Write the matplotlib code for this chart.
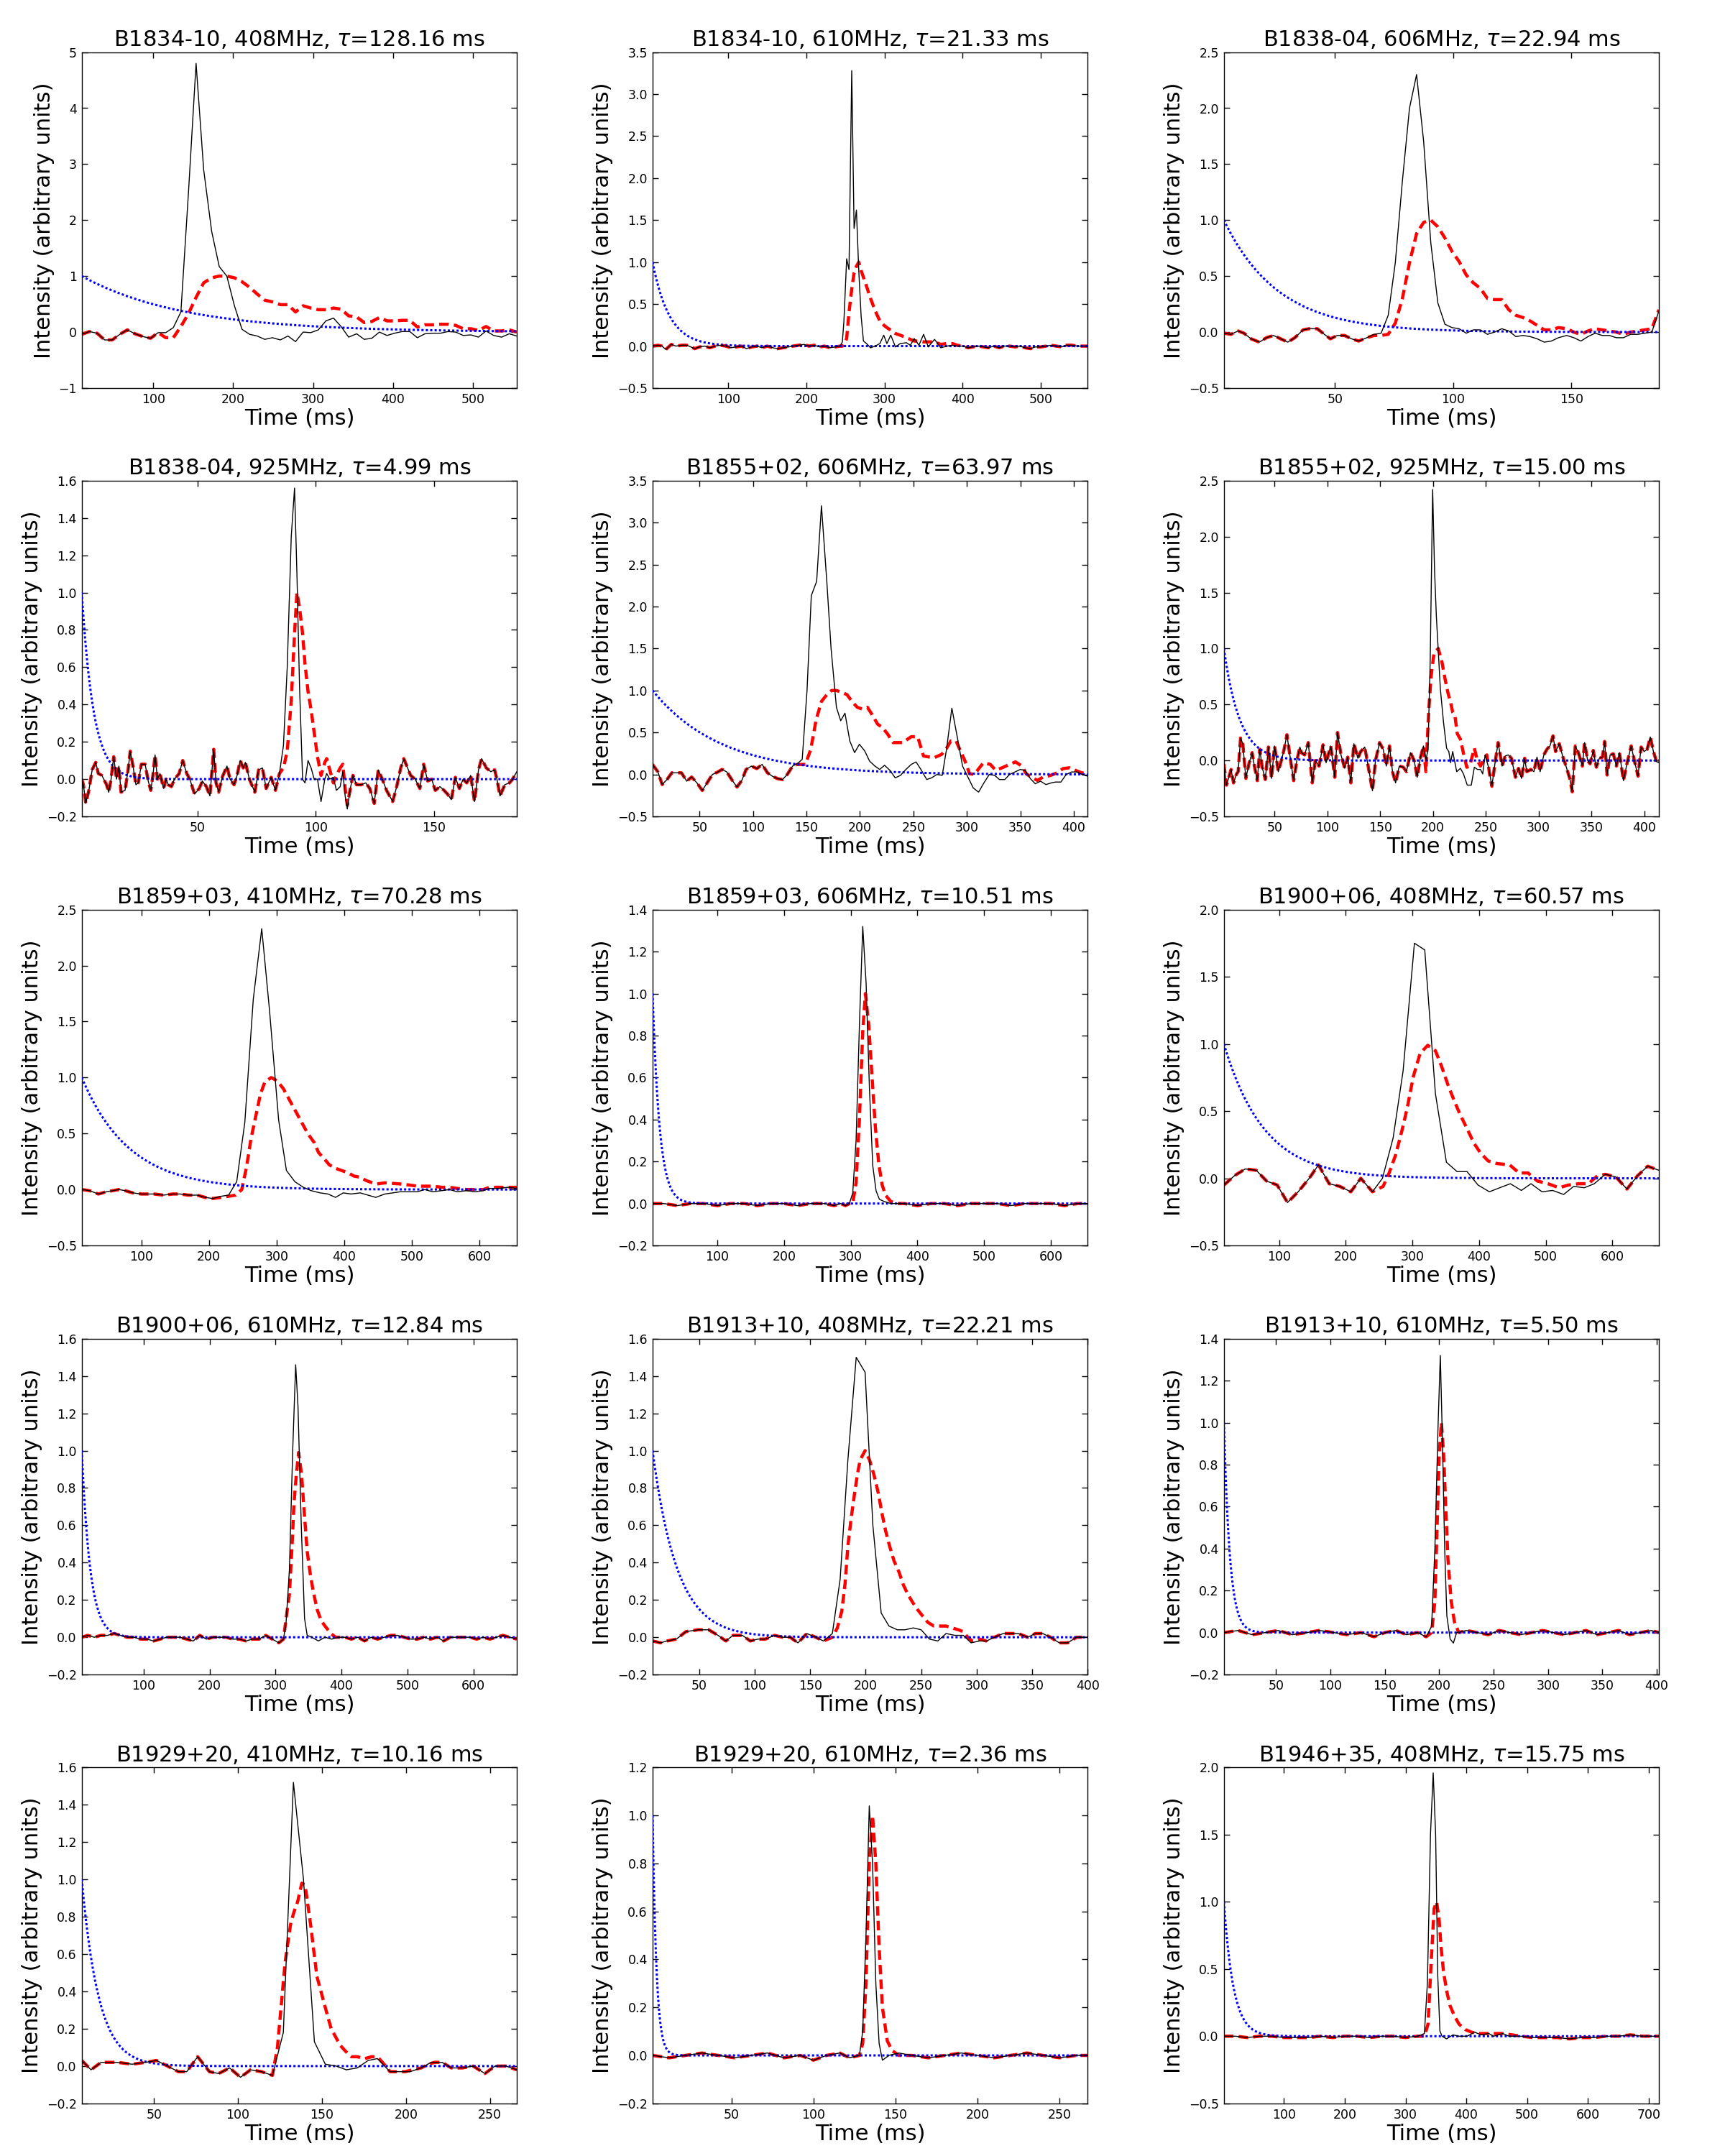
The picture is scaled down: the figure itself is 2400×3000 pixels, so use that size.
# Scattering fits for 15 pulsar profiles: observed profile (black),
# scattered profile (red dashed) and exp(-t/tau) kernel (blue dotted)

import matplotlib
matplotlib.use("Agg")
import matplotlib.pyplot as plt
import numpy as np
from matplotlib.ticker import MultipleLocator

names = ["B1834-10", "B1834-10", "B1838-04", "B1838-04", "B1855+02",
         "B1855+02", "B1859+03", "B1859+03", "B1900+06", "B1900+06",
         "B1913+10", "B1913+10", "B1929+20", "B1929+20", "B1946+35"]
freqs = ["408MHz", "610MHz", "606MHz", "925MHz", "606MHz",
         "925MHz", "410MHz", "606MHz", "408MHz", "610MHz",
         "408MHz", "610MHz", "410MHz", "610MHz", "408MHz"]
taus = ["128.16", "21.33", "22.94", "4.99", "63.97",
        "15.00", "70.28", "10.51", "60.57", "12.84",
        "22.21", "5.50", "10.16", "2.36", "15.75"]
ylims = [(-1, 5), (-0.5, 3.5), (-0.5, 2.5), (-0.2, 1.6), (-0.5, 3.5),
         (-0.5, 2.5), (-0.5, 2.5), (-0.2, 1.4), (-0.5, 2.0), (-0.2, 1.6),
         (-0.2, 1.6), (-0.2, 1.4), (-0.2, 1.6), (-0.2, 1.2), (-0.5, 2.0)]
xsteps = [100, 100, 50, 50, 50, 50, 100, 100, 100, 100, 50, 50, 50, 50, 100]
ysteps = [1, 0.5, 0.5, 0.2, 0.5, 0.5, 0.5, 0.2, 0.5, 0.2, 0.2, 0.2, 0.2, 0.2, 0.5]

# (time in ms, intensity) pairs
black_1 = [(10.4,-0.04),(20,0.01),(29.5,-0.02),(39,-0.14),(48.5,-0.14),(58,-0.04),(67.5,0.04),(77,-0.03),
           (87,-0.08),(96.5,-0.11),(106,-0.01),(115.5,-0.01),(125,0.08),(134.5,0.36),(144,2.5),(153.5,4.8),
           (163,2.9),(173,1.8),(182.5,1.17),(192,1.0),(201.5,0.47),(211,0.05),(220.5,-0.04),(230,-0.07),
           (239.5,-0.13),(249,-0.1),(259,-0.14),(268.5,-0.07),(278,-0.17),(287.5,0.0),(297,-0.01),(306.5,0.04),
           (316,0.2),(325.5,0.25),(335,0.1),(344.5,-0.09),(354.5,-0.03),(364,-0.13),(373.5,-0.11),(383,0.0),
           (392.5,-0.06),(402,-0.02),(411.5,0.01),(421,0.01),(430.5,-0.1),(440,-0.03),(450,-0.02),(459.5,-0.02),
           (469,0.01),(478.5,0.0),(488,-0.06),(497.5,-0.05),(507,-0.09),(516.5,0.02),(526,-0.06),(536,-0.09),
           (545.5,-0.03),(555,-0.07)]
red_1 = [(115.5,-0.1),(125,-0.1),(134.5,0.1),(144,0.33),(153.5,0.62),(163,0.88),(173,0.97),(182.5,1.0),
         (192,1.0),(201.5,0.97),(211,0.9),(220.5,0.8),(230,0.68),(239.5,0.57),(249,0.54),(259,0.49),
         (268.5,0.49),(278,0.36),(287.5,0.47),(297,0.43),(306.5,0.4),(316,0.4),(325.5,0.43),(335,0.41),
         (344.5,0.29),(354.5,0.27),(364,0.17),(373.5,0.19),(383,0.26),(392.5,0.2),(402,0.2),(411.5,0.21),
         (421,0.21),(430.5,0.09),(440,0.13),(450,0.13),(459.5,0.14),(469,0.14),(478.5,0.12),(488,0.06),
         (497.5,0.06),(507,0.03),(516.5,0.1),(526,0.02),(536,0.02),(545.5,0.04),(555,0.0)]

black_2 = [(3,0.0),(10,0.01),(15,0.0),(20,-0.04),(27,0.02),(33,0.0),(40,0.01),(47,0.01),(52,-0.01),(57,-0.03),
           (63,-0.01),(70,0.0),(76,-0.02),(83,0.0),(90,0.01),(97,0.0),(103,-0.02),(110,-0.01),(117,0.0),
           (123,-0.03),(130,-0.01),(137,0.0),(143,-0.02),(150,0.0),(157,-0.02),(163,-0.03),(170,-0.02),
           (177,-0.01),(183,0.0),(190,0.01),(197,0.02),(203,0.0),(210,0.01),(217,-0.01),(223,0.0),(230,-0.02),
           (237,-0.01),(243,0.0),(246,0.05),(248,0.3),(251.5,1.04),(254.5,0.91),(258,3.28),(261,1.4),(264,1.62),
           (267,0.9),(270,0.36),(273,0.06),(277,0.03),(282,-0.02),(288,0.0),(294,0.03),(299,0.13),(303,0.03),
           (308,0.13),(314,-0.01),(320,0.03),(328,0.04),(333,0.01),(338,0.09),(344,0.01),(350,0.14),(356,-0.01),
           (364,0.08),(372,-0.02),(380,0.0),(387,0.01),(393,0.0),(400,0.0),(407,-0.02),(413,-0.01),(420,0.0),
           (427,-0.01),(433,-0.02),(440,0.0),(447,-0.02),(453,0.0),(460,0.0),(467,-0.01),(473,0.0),(480,-0.02),
           (487,-0.03),(493,-0.01),(500,-0.01),(507,0.0),(513,0.01),(520,0.0),(527,-0.01),(533,0.01),(540,0.01),
           (547,0.0),(553,0.0),(560,0.0)]
red_2 = [(246,0.0),(248,0.02),(251.5,0.09),(254.5,0.4),(258,0.68),(261,0.87),(264,0.95),(267,1.0),(270,0.9),
         (273,0.82),(277,0.71),(282,0.57),(288,0.42),(294,0.3),(299,0.25),(303,0.22),(308,0.19),(314,0.15),
         (320,0.13),(328,0.1),(333,0.08),(338,0.06),(344,0.06),(350,0.05),(356,0.05),(364,0.05),(372,0.02),
         (380,0.03),(387,0.03),(393,0.01),(400,0.0)]

black_3 = [(3,-0.01),(6,-0.02),(9,0.01),(11.5,-0.01),(14.5,-0.06),(18,-0.09),(21,-0.05),(24,-0.03),(27,-0.06),
           (30,-0.09),(33,-0.05),(36.5,0.02),(39,0.03),(42.5,0.03),(45.5,-0.02),(48,-0.06),(51,-0.03),(54,-0.03),
           (57,-0.06),(60,-0.08),(63.5,-0.05),(66.5,-0.02),(69.5,-0.01),(72.5,0.15),(75.5,0.62),(78.5,1.35),
           (81.5,2.0),(84.5,2.3),(87.5,1.7),(90.5,0.8),(93.5,0.26),(96.5,0.07),(99.5,0.04),(102.5,0.03),
           (105.5,-0.01),(108.5,0.02),(111.5,0.02),(114.5,-0.02),(117.5,0.0),(120.5,0.03),(123.5,0.01),
           (126.5,-0.04),(129.5,-0.03),(132.5,-0.04),(135.5,-0.06),(138.5,-0.09),(141.5,-0.08),(144.5,-0.05),
           (148,-0.03),(151,-0.05),(154,-0.08),(157,-0.04),(160,-0.01),(163,-0.03),(166,-0.03),(169,-0.05),
           (172,-0.05),(175,-0.02),(178,-0.02),(181,-0.01),(184,0.0),(187,0.19)]
red_3 = [(66.5,-0.03),(69.5,-0.03),(72.5,-0.02),(75.5,0.08),(78.5,0.3),(81.5,0.62),(84.5,0.88),(87.5,0.98),
         (90.5,1.0),(93.5,0.94),(96.5,0.84),(99.5,0.72),(102.5,0.63),(105.5,0.51),(108.5,0.44),(111.5,0.39),
         (114.5,0.3),(117.5,0.29),(120.5,0.29),(123.5,0.2),(126.5,0.15),(129.5,0.13),(132.5,0.1),(135.5,0.06),
         (138.5,0.02),(141.5,0.02),(144.5,0.04),(148,0.03),(151,0.0),(154,-0.02),(157,0.01),(160,0.03),
         (163,0.02),(166,0.01),(169,0.0),(172,-0.02),(175,0.0),(178,0.01),(181,0.02),(184,0.03),(187,0.2)]

black_4 = [(1,0.0),(1.7,-0.03),(2.7,-0.13),(4,-0.06),(5.4,0.05),(6.9,0.09),(8,0.03),(9.5,0.02),(11.5,-0.03),
           (12.4,-0.07),(13.4,0.0),(14.5,0.12),(15.7,0.0),(16.7,0.07),(17.6,-0.07),(19.3,-0.06),(20.6,0.05),
           (21.5,0.15),(22.8,0.06),(23.9,-0.03),(24.9,-0.02),(26.2,0.08),(27.8,0.08),(29.1,-0.01),(30.2,-0.06),
           (31.1,0.02),(32,0.13),(33,0.0),(34.1,0.03),(35.6,-0.05),(36.7,0.0),(37.6,-0.03),(38.9,-0.04),
           (40.2,0.0),(42.2,0.03),(43.7,0.1),(45.4,0.03),(46.7,0.0),(48.7,-0.08),(50.7,-0.05),(52,-0.01),
           (53.7,-0.04),(55.2,-0.09),(56.8,0.16),(57.8,-0.02),(58.9,-0.07),(60.4,0.01),(62.4,0.07),(63.7,0.0),
           (65.4,-0.03),(66.7,0.02),(68,0.1),(69.3,0.06),(70.2,0.09),(71.9,0.0),(74.2,-0.07),(75.8,0.05),
           (77.4,0.06),(79,-0.05),(81.1,0.01),(82.9,-0.06),(84.6,0.03),(86.3,0.18),(87.9,0.6),(89.6,1.3),
           (91,1.56),(92,1.1),(93.1,0.5),(94.4,0.0),(95.4,-0.02),(96.7,0.1),(98,0.06),(99.3,0.0),(100.7,0.0),
           (102.2,-0.12),(103.8,0.0),(104.6,0.03),(105.9,0.0),(107.4,0.01),(108.7,-0.06),(110.3,-0.04),
           (111.4,0.04),(112.4,-0.09),(113.3,-0.16),(114.6,-0.05),(115.7,0.02),(117.2,-0.03),(119.2,-0.03),
           (121.1,-0.02),(122.8,-0.05),(124.7,-0.13),(126.4,0.05),(128.1,0.0),(129.9,-0.06),(132.5,-0.12),
           (134.2,-0.04),(135.9,0.06),(137.2,0.11),(138.8,0.06),(140.1,0.02),(142,0.0),(144,-0.05),(145.6,0.08),
           (147.3,-0.01),(149,0.0),(150.5,-0.06),(152.5,-0.04),(154.2,-0.06),(155.7,-0.08),(157.3,-0.11),
           (159,0.01),(160.7,-0.05),(162.3,0.0),(163.8,-0.02),(165.5,0.02),(167.1,-0.12),(168.8,0.05),
           (170.1,0.11),(172.1,0.06),(174,0.04),(175.6,0.05),(176.6,0.0),(177.9,-0.09),(179.9,-0.03),
           (181.9,-0.02),(183.2,0.0),(185,0.04)]
red_4 = [(84.6,0.03),(86.3,0.06),(87.9,0.15),(89.6,0.42),(91,0.78),(92,1.0),(93.1,0.92),(94.4,0.78),(95.4,0.62),
         (96.7,0.47),(98,0.37),(99.3,0.25),(100.7,0.12),(102.2,0.02),(103.8,0.09),(104.6,0.11),(105.9,0.05),
         (107.4,-0.02),(108.7,0.02),(110.3,0.06),(111.4,0.08),(112.4,-0.05),(113.3,-0.14)]

black_5 = [(6,0.12),(11,0.03),(15,-0.12),(19.5,-0.06),(24,0.02),(28,0.02),(33,0.02),(38,-0.08),(42.5,-0.03),
           (47.5,-0.1),(52.5,-0.19),(57,-0.1),(62,0.0),(67,0.03),(71,0.06),(75.5,0.03),(80,-0.06),(85,-0.15),
           (89.5,-0.07),(93.5,0.06),(98.5,0.1),(103.5,0.07),(108.5,0.12),(113.5,0.02),(118,-0.02),(123,-0.05),
           (127.5,-0.06),(132,0.0),(137,0.1),(141.5,0.13),(146,0.18),(150.5,1.0),(154.5,2.13),(159.5,2.3),
           (164,3.2),(169,2.3),(173,1.5),(178,0.8),(182,0.64),(186,0.73),(190.5,0.4),(195,0.26),(199.5,0.36),
           (204.5,0.28),(209,0.16),(214,0.1),(218.5,0.06),(223,0.11),(228,0.05),(233,-0.04),(238,-0.01),
           (243,0.06),(248,0.12),(252.5,0.15),(257.5,0.05),(262.5,-0.06),(267,-0.04),(272,0.0),(277,-0.01),
           (281,0.3),(286,0.79),(291,0.45),(296,0.1),(301,-0.03),(306,-0.16),(311,-0.21),(316,-0.1),(321,0.0),
           (326,-0.01),(330.5,-0.06),(335.5,-0.06),(340,0.0),(345,0.03),(350,0.06),(354.5,0.05),(359.5,-0.05),
           (364,-0.11),(369,-0.08),(374,-0.12),(379,-0.1),(383,-0.09),(388,-0.09),(393,0.0),(398,0.03),
           (403,0.03),(408,0.0),(413,-0.02)]
red_5 = [(141.5,0.12),(149,0.12),(154,0.3),(159,0.65),(164,0.87),(169,0.95),(173.5,1.0),(178,1.0),(183,0.98),
         (188,0.95),(192.5,0.87),(197.5,0.8),(202,0.78),(207,0.8),(212,0.7),(216.5,0.6),(221,0.56),(226,0.48),
         (231,0.38),(240,0.38),(248,0.45),(254,0.45),(259.5,0.22),(264,0.21),(269.5,0.2),(276.5,0.24),
         (281,0.31),(285,0.4),(290,0.4),(294,0.28),(298,0.17),(302.5,0.01),(307,0.0),(310,0.05),(315.5,0.14),
         (322,0.12),(327,0.05),(333,0.08),(340,0.12),(345.5,0.15),(351.5,0.1),(355.5,0.01),(360,-0.03),
         (366,-0.07),(371.5,-0.03),(378.5,-0.01),(384.5,0.02),(390,0.07),(396,0.08),(401.5,0.05),(407.5,0.02),
         (413,0.01)]

black_6 = [(2,-0.03),(4.4,-0.22),(6.7,-0.15),(8.8,-0.08),(11.1,-0.2),(14,-0.12),(15.5,-0.1),(17.8,0.2),
           (19.9,0.15),(22.8,-0.16),(25.7,-0.03),(28.7,0.07),(30.7,-0.04),(33.6,-0.18),(36,0.1),(38.3,-0.06),
           (41.2,-0.17),(44.2,0.12),(47.1,-0.16),(50,0.13),(53.5,-0.1),(56.4,0.0),(58.8,0.09),(61.7,0.23),
           (65.2,0.0),(68.1,-0.18),(71.1,0.0),(74,0.12),(75.4,0.07),(78.4,0.05),(81.9,0.16),(85.7,-0.2),
           (88.6,0.0),(92.1,-0.05),(95.9,0.14),(98.8,-0.02),(103.2,0.13),(107,-0.15),(109.6,0.25),(112.9,0.05),
           (116.4,-0.07),(119.3,0.03),(122.2,-0.2),(125.1,0.15),(128.9,0.02),(131.6,0.08),(135.4,0.12),
           (139.2,-0.08),(142.7,-0.27),(145.6,0.0),(149.4,0.16),(152.9,0.1),(155.8,-0.05),(158.8,0.13),
           (161.7,-0.1),(164.6,-0.2),(168.1,-0.05),(171.9,-0.06),(174.9,-0.1),(178.7,0.07),(182.2,0.0),
           (185.1,-0.15),(188,0.02),(191,0.13),(193.3,0.0),(195.3,0.1),(197.4,0.9),(199.7,2.42),(201.5,1.7),
           (203.2,1.29),(207,0.64),(210,0.34),(212.9,0.11),(215,0.08),(216.7,-0.02),(218.7,0.08),(222.5,-0.1),
           (226,-0.07),(228.9,-0.12),(232.5,-0.22),(236.3,-0.22),(239.2,-0.06),(242.1,-0.08),(245,-0.08),
           (247.1,-0.12),(249.4,0.05),(252.9,-0.07),(255.8,-0.23),(258.8,-0.02),(261.7,0.16),(265.5,-0.05),
           (268.4,0.04),(271.3,0.05),(274.3,0.02),(278.1,-0.15),(281,-0.07),(283.9,-0.16),(286.8,0.02),
           (288.9,-0.1),(292.7,-0.08),(295.6,-0.1),(298.5,0.03),(301.5,-0.1),(305,0.05),(307.9,0.1),
           (310.8,0.13),(313.7,0.22),(316.1,0.08),(319.6,0.15),(323.1,0.03),(326,-0.05),(329.8,-0.17),
           (331.9,-0.28),(334.8,0.13),(337.7,0.07),(341.5,-0.05),(343.6,0.16),(346.5,0.0),(348.8,-0.03),
           (351.8,0.09),(354.7,-0.06),(357.6,0.02),(360.5,0.03),(362.6,0.17),(364.9,-0.13),(367.8,0.05),
           (370.8,0.06),(373.7,-0.05),(376.6,0.07),(380.4,-0.18),(383.9,-0.02),(387.7,0.13),(391.2,-0.02),
           (394.2,-0.14),(397.1,0.12),(400,0.08),(402.9,0.1),(405.8,0.21),(408.8,0.08),(411.7,-0.01),(414,-0.02)]
red_6 = [(188,0.02),(191,0.13),(193.3,-0.1),(195.9,0.43),(198.2,0.75),(201,0.96),(205,1.0),(208.5,0.88),
         (211.4,0.73),(214.3,0.6),(216.7,0.52),(218.7,0.43),(220.8,0.4),(223,0.24),(226,0.19),(229,0.06),
         (232,-0.06),(234.8,-0.05),(239.2,0.11),(242,0.0),(245,-0.05),(248,0.01),(251,0.05),(253.8,-0.13)]

black_7 = [(12,0.0),(23.5,-0.01),(36.5,-0.04),(48.5,-0.02),(67,0.0),(76,-0.01),(87.5,-0.03),(100,-0.04),
           (119,-0.04),(132.5,-0.05),(146.5,-0.04),(157.5,-0.04),(169,-0.05),(182.5,-0.05),(194,-0.07),
           (205.5,-0.08),(218,-0.06),(229,-0.05),(241,0.07),(253,0.6),(265.5,1.7),(278,2.33),(289.5,1.6),
           (303,0.62),(314.5,0.17),(327,0.07),(339.5,0.02),(351,-0.01),(364.5,-0.03),(376,-0.04),(387,-0.07),
           (398.5,-0.03),(410,-0.04),(423.5,-0.03),(435,-0.05),(446.5,-0.07),(460,-0.04),(471.5,-0.03),
           (482.5,-0.02),(496.5,-0.02),(508,-0.02),(519,0.0),(530.5,-0.02),(544,-0.01),(555.5,0.0),(567,-0.02),
           (580.5,-0.01),(594,-0.02),(605.5,-0.01),(614.5,0.01),(628,0.01),(642,0.02),(655,0.01)]
red_7 = [(218,-0.07),(229,-0.06),(239.5,-0.05),(248.5,0.0),(255.5,0.2),(262,0.45),(269,0.65),(276,0.85),
         (282.5,0.96),(292,1.0),(301,0.97),(310,0.9),(319,0.8),(328,0.7),(337,0.6),(346,0.5),(355.5,0.42),
         (362,0.33),(371,0.27),(378,0.22),(387,0.19),(396,0.17),(405.5,0.15),(414.5,0.12),(423.5,0.11),
         (432.5,0.08),(441.5,0.06),(448.5,0.05),(460,0.06),(482.5,0.05),(496.5,0.04),(508,0.03),(519,0.03),
         (530.5,0.03),(544,0.02),(555.5,0.02),(567,0.01),(580.5,0.0),(594,0.0),(605.5,0.0),(614.5,0.02),
         (628,0.02),(642,0.02),(655,0.02)]

black_8 = [(3,0.0),(20,0.0),(40,-0.01),(60,0.0),(80,0.0),(100,-0.01),(120,0.0),(140,0.0),(160,-0.01),
           (180,0.0),(200,0.0),(220,-0.01),(240,0.0),(260,0.0),(275,-0.01),(285,0.0),(292,-0.01),(298,0.0),
           (303,0.05),(308,0.3),(313,0.85),(318,1.32),(323,1.05),(328,0.55),(333,0.18),(338,0.06),(343,0.02),
           (350,0.01),(360,0.0),(380,0.0),(400,-0.01),(420,0.0),(440,0.0),(460,-0.01),(480,0.0),(500,0.0),
           (520,0.0),(540,-0.01),(560,0.0),(580,0.0),(600,0.0),(620,-0.01),(640,0.0),(655,0.0)]
red_8 = [(298,0.0),(303,0.0),(308,0.1),(313,0.4),(318,0.82),(322,1.0),(327,0.85),(332,0.6),(337,0.36),
         (342,0.19),(347,0.09),(352,0.04),(360,0.01),(370,0.0)]

black_9 = [(17,-0.05),(33,0.02),(49,0.07),(65.5,0.06),(81,-0.02),(97,-0.05),(112.5,-0.18),(128.5,-0.1),
           (145,0.0),(159,0.1),(175,-0.04),(191,-0.06),(207.5,-0.1),(222.5,0.0),(240,-0.1),(255,0.0),(271,0.3),
           (286,0.8),(303,1.75),(318.5,1.7),(334.5,0.63),(351,0.12),(367,0.05),(382,0.05),(398.5,-0.05),
           (415.5,-0.1),(431,-0.07),(447,-0.04),(463.5,-0.09),(478,-0.04),(494.5,-0.1),(510.5,-0.09),
           (527,-0.12),(542,-0.06),(558,-0.07),(573,-0.04),(589.5,0.03),(605.5,0.01),(622,-0.08),(638,0.02),
           (653,0.09),(670,0.06)]
red_9 = [(240,-0.1),(256,-0.06),(265,0.04),(274.5,0.17),(284,0.35),(292,0.52),(301.5,0.76),(311.5,0.93),
         (323,0.99),(334.5,0.95),(344,0.83),(353,0.7),(362.5,0.58),(372,0.47),(381,0.38),(392.5,0.26),
         (402,0.19),(413.5,0.13),(427,0.11),(446,0.1),(460,0.04),(473.5,0.04),(487.5,-0.02),(503.5,-0.04),
         (520,-0.07),(534,-0.05),(550,-0.04),(564,-0.04),(578,0.02)]

black_10 = [(6,0.0),(15,0.01),(25,0.0),(35,0.01),(45,0.01),(55,0.02),(65,0.01),(75,0.0),(85,0.0),(95,-0.01),
            (105,-0.01),(115,-0.02),(125,-0.01),(135,0.0),(145,0.0),(155,0.0),(165,-0.01),(175,-0.02),
            (185,0.01),(195,-0.01),(205,0.0),(215,0.0),(225,0.0),(235,-0.01),(245,-0.01),(255,-0.02),
            (265,-0.01),(275,-0.01),(285,0.01),(295,-0.01),(305,-0.03),(312,-0.01),(316,0.08),(321,0.36),
            (326,1.0),(330.5,1.46),(334,1.24),(339,0.6),(344,0.1),(348,0.01),(355,0.0),(365,-0.02),(375,0.0),
            (385,-0.01),(395,0.0),(405,0.0),(415,-0.01),(425,0.0),(435,-0.02),(445,0.0),(455,-0.01),(465,0.0),
            (475,0.01),(485,0.01),(495,0.0),(505,-0.01),(515,-0.01),(525,0.0),(535,-0.01),(545,0.0),
            (555,-0.02),(565,0.0),(575,0.0),(585,0.0),(595,0.0),(605,-0.01),(615,0.0),(625,-0.01),(635,0.0),
            (645,0.01),(655,0.0),(666,-0.01)]
red_10 = [(305,-0.03),(312,-0.01),(316,0.1),(321,0.23),(325,0.49),(328,0.72),(331.5,0.87),(335,0.99),
          (339.5,0.87),(343.5,0.67),(348,0.46),(353,0.33),(357.5,0.24),(363,0.15),(369,0.09),(375,0.06),
          (384,0.02),(391,0.0)]

black_11 = [(8,-0.02),(15,-0.03),(21,-0.02),(29.5,-0.01),(38,0.03),(49,0.04),(58.5,0.04),(67,0.01),(74,-0.02),
            (80.5,0.01),(89,0.01),(96,-0.02),(103,-0.01),(109.5,-0.01),(118,0.01),(125,0.0),(132,0.0),
            (139,-0.03),(147,0.02),(155,0.0),(162,-0.02),(170,0.02),(177,0.31),(184,0.95),(191.5,1.5),
            (199.5,1.42),(206.5,0.6),(214,0.13),(221,0.06),(228.5,0.04),(235.5,0.04),(243,0.05),(250,0.04),
            (257.5,-0.01),(265,-0.02),(272.5,0.02),(280.5,0.01),(288,0.01),(295,-0.03),(302.5,-0.02),
            (309,-0.02),(316,0.0),(324,0.02),(330.5,0.02),(337.5,0.02),(346,0.0),(353,0.02),(359.5,0.02),
            (366.5,0.0),(374.5,-0.03),(382,-0.03),(390,0.0),(400,0.0)]
red_11 = [(170,0.0),(174.5,0.05),(178.5,0.14),(181.5,0.29),(184,0.49),(187,0.64),(190,0.77),(192.5,0.87),
          (195,0.95),(199.5,1.0),(203.5,0.95),(207.5,0.87),(211.5,0.77),(214.5,0.67),(218,0.57),(221.5,0.49),
          (225.5,0.41),(230,0.35),(234,0.28),(238,0.23),(242,0.19),(246.5,0.15),(250.5,0.12),(256,0.08),
          (261.5,0.06),(267,0.06),(272.5,0.06),(278,0.05),(283.5,0.04),(288,0.03),(292,0.0),(296,-0.02),
          (303,-0.01),(308.5,-0.02),(312,0.0)]

black_12 = [(2,0.0),(15,0.01),(28,-0.01),(40,0.0),(52,0.01),(65,-0.01),(78,0.0),(90,0.01),(103,0.0),
            (115,-0.01),(128,0.0),(140,-0.02),(150,0.0),(160,0.01),(170,-0.01),(180,0.0),(188,-0.02),
            (193,0.03),(196,0.4),(199,1.0),(201,1.32),(203,0.9),(205,0.4),(207,0.08),(210,-0.03),(213,-0.05),
            (216,0.0),(225,0.01),(235,0.0),(245,-0.01),(255,0.01),(265,0.0),(275,-0.01),(285,0.0),(295,0.01),
            (305,0.0),(315,-0.01),(325,0.0),(335,0.01),(345,-0.01),(355,0.0),(365,0.01),(375,-0.01),
            (385,0.0),(395,0.01),(402,0.0)]
red_12 = [(193,0.0),(196,0.15),(198,0.5),(200,0.85),(202,1.0),(204,0.85),(206,0.6),(208,0.35),(211,0.15),
          (214,0.05),(218,0.0)]

black_13 = [(7,0.03),(12.5,-0.02),(18.5,0.02),(28,0.02),(37,0.01),(45,0.02),(51.5,0.03),(58,0.0),(64.5,-0.03),
            (69.5,-0.03),(76,0.05),(83,-0.03),(88.5,-0.04),(95,-0.01),(101.5,-0.06),(107.5,-0.02),
            (114,-0.03),(120.5,-0.05),(127,0.18),(133,1.52),(139,1.0),(145.5,0.13),(152,0.01),(158.5,0.0),
            (164.5,-0.02),(171,-0.01),(177.5,0.03),(183,0.04),(190.5,-0.03),(197,-0.03),(202.5,-0.03),
            (209,-0.01),(215,0.02),(221.5,0.02),(227,-0.01),(233.5,-0.01),(240,0.0),(247,-0.04),(253,0.0),
            (259.5,0.0),(266,-0.02)]
red_13 = [(120.5,-0.05),(123.5,0.1),(126,0.35),(128,0.55),(130,0.68),(131.5,0.77),(133.5,0.83),(135.5,0.88),
          (138,0.98),(140,0.97),(141.5,0.87),(143.5,0.74),(145.5,0.59),(147,0.48),(150,0.38),(153,0.28),
          (155.5,0.2),(158.5,0.15),(161,0.11),(164,0.08),(167.5,0.05),(171,0.05),(175.5,0.04),(179.5,0.05),
          (183,0.05),(187,0.01),(190.5,-0.03),(195,-0.03),(199.5,-0.03),(204,-0.02),(209,-0.01),(213.5,0.01),
          (217,0.02),(221.5,0.02)]

black_14 = [(2,0.0),(12,-0.01),(22,0.0),(32,0.01),(42,0.0),(52,-0.01),(62,0.0),(72,0.01),(82,-0.01),(92,0.0),
            (100,-0.02),(108,0.0),(116,0.01),(122,-0.01),(128,0.0),(130,0.1),(132,0.5),(134,1.04),(136,0.8),
            (138,0.3),(140,0.05),(142,-0.02),(146,0.0),(152,0.01),(160,0.0),(170,-0.01),(180,0.0),(190,0.01),
            (200,0.0),(210,-0.01),(220,0.0),(230,0.01),(240,0.0),(250,-0.01),(260,0.0),(267,0.0)]
red_14 = [(128,0.0),(130,0.05),(132,0.3),(134,0.8),(136,1.0),(138,0.8),(140,0.45),(142,0.2),(145,0.06),
          (148,0.02),(152,0.0)]

black_15 = [(1,0.0),(20,0.0),(40,-0.01),(60,0.0),(80,0.0),(100,-0.01),(120,-0.01),(140,-0.01),(160,0.0),
            (180,-0.01),(200,0.0),(220,0.0),(240,-0.01),(260,0.0),(280,0.0),(300,-0.01),(320,0.0),(331,0.02),
            (336,0.4),(341,1.5),(345.5,1.96),(349.5,1.5),(353,0.45),(356.5,0.04),(360,0.0),(367.5,-0.02),
            (378,0.01),(388,0.0),(401,0.0),(414,0.03),(424,0.01),(437,0.02),(445,0.0),(460,0.02),(470,0.0),
            (490,0.0),(510,-0.01),(530,-0.01),(550,-0.01),(570,-0.02),(590,-0.01),(610,-0.01),(630,0.0),
            (650,0.0),(670,0.01),(690,0.0),(717,0.0)]
red_15 = [(331,0.0),(337,0.09),(342,0.54),(347,0.95),(351,1.0),(355,0.88),(358.5,0.66),(362.5,0.48),
          (367.5,0.34),(373,0.23),(380.5,0.15),(388,0.09),(398,0.05),(408.5,0.03),(419,0.02),(429,0.02),
          (439.5,0.02),(450,0.02),(460,0.02),(475,0.01),(490,0.0)]

blacks = [black_1, black_2, black_3, black_4, black_5, black_6, black_7, black_8,
          black_9, black_10, black_11, black_12, black_13, black_14, black_15]
reds = [red_1, red_2, red_3, red_4, red_5, red_6, red_7, red_8,
        red_9, red_10, red_11, red_12, red_13, red_14, red_15]


def merge(black, red):
    # red follows the profile outside the scattered window
    lo, hi = red[0][0], red[-1][0]
    return [p for p in black if p[0] < lo] + red + [p for p in black if p[0] > hi]


fig = plt.figure(figsize=(24, 30), dpi=100)
lefts = [0.0474, 0.3783, 0.7095]
bottoms = [0.82, 0.6213, 0.4223, 0.2233, 0.0244]

for i in range(15):
    ax = fig.add_axes([lefts[i % 3], bottoms[i // 3], 0.2522, 0.1558])
    bt, by = np.array(blacks[i]).T
    rt, ry = np.array(merge(blacks[i], reds[i])).T
    tau = float(taus[i])
    t = np.linspace(bt[0], bt[-1], 400)

    ax.plot(rt, ry, color="r", lw=3.2, linestyle=(0, (3, 1.6)), zorder=2)
    ax.plot(t, np.exp(-(t - bt[0]) / tau), color="b", lw=2.2,
            linestyle=(0, (1, 1)), zorder=3)
    ax.plot(bt, by, color="k", lw=1.0, zorder=4)

    ax.set_xlim(bt[0], bt[-1])
    ax.set_ylim(*ylims[i])
    ax.xaxis.set_major_locator(MultipleLocator(xsteps[i]))
    ax.yaxis.set_major_locator(MultipleLocator(ysteps[i]))
    ax.tick_params(direction="in", top=True, right=True, length=6, width=1, labelsize=12.5, pad=5)
    for s in ax.spines.values():
        s.set_linewidth(1.0)
    ax.set_title(names[i] + ", " + freqs[i] + r", $\tau$=" + taus[i] + " ms", fontsize=22)
    ax.set_xlabel("Time (ms)", fontsize=22, labelpad=2)
    ax.set_ylabel("Intensity (arbitrary units)", fontsize=22, labelpad=4)

fig.savefig("out.png", dpi=100, facecolor="white")
